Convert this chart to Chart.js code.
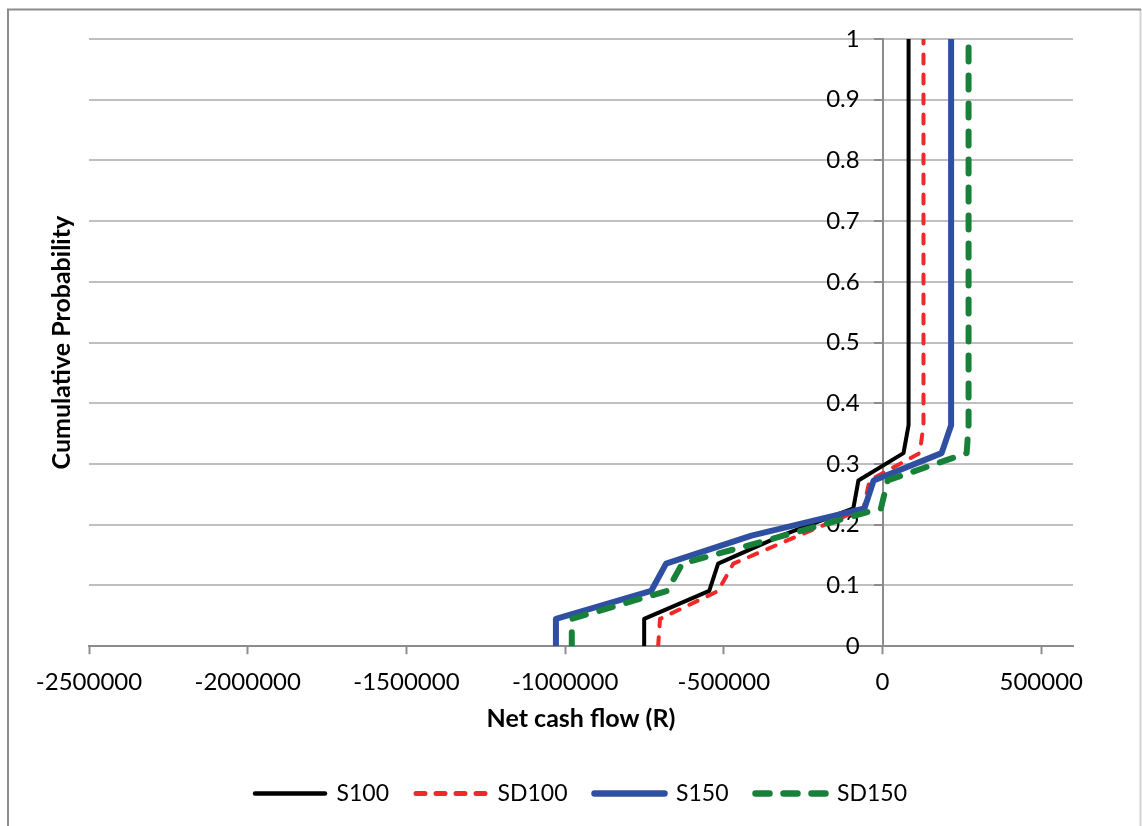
<!DOCTYPE html>
<html>
<head>
<meta charset="utf-8">
<title>Net cash flow distribution</title>
<script src="https://cdn.jsdelivr.net/npm/chart.js@4.4.1/dist/chart.umd.min.js"></script>
<style>
  html, body { margin: 0; padding: 0; background: #fff; }
  #wrap { width: 1142px; height: 826px; position: relative; }
</style>
</head>
<body>
<div id="wrap"><canvas id="cdfChart"></canvas></div>
<script>
// cumulative probability levels shared by every scenario
var cumProb = [0, 0.045, 0.091, 0.136, 0.182, 0.227, 0.273, 0.318, 0.364, 1];

// net cash flow (R) at each level
var flowS100  = [-751000, -751000, -546000, -518000, -319000, -92000, -76000, 66000, 82000, 82000];
var flowSD100 = [-707000, -701000, -518000, -470000, -265000, -60000, -41000, 117000, 129000, 129000];
var flowS150  = [-1029000, -1029000, -729000, -682000, -413000, -57000, -28000, 186000, 216000, 216000];
var flowSD150 = [-979000, -979000, -679000, -631000, -312000, -5000, 16000, 265000, 271000, 271000];

var seriesNames = ['S100', 'SD100', 'S150', 'SD150'];
var xTickValues = [-2500000, -2000000, -1500000, -1000000, -500000, 0, 500000];

var FONT = "Lato, 'DejaVu Sans', sans-serif";

function toPoints(xs) {
    return xs.map(function (x, i) { return { x: x, y: cumProb[i] }; });
}

// outer frame and rotated y title
var framePlugin = {
    id: 'frame',
    beforeDraw: function (chart) {
        var c = chart.ctx;
        c.save();
        c.fillStyle = '#fff';
        c.fillRect(0, 0, chart.width, chart.height);
        c.lineWidth = 2;
        c.strokeStyle = '#d4d4d4';
        c.beginPath(); c.moveTo(1140.5, 9); c.lineTo(1140.5, 826); c.stroke();
        c.strokeStyle = '#8c8c8c';
        c.beginPath(); c.moveTo(8, 826); c.lineTo(8, 9.5); c.lineTo(1141, 9.5); c.stroke();
        c.restore();
    },
    afterDraw: function (chart) {
        var c = chart.ctx, a = chart.chartArea;
        c.save();
        c.translate(62, (a.top + a.bottom) / 2);
        c.rotate(-Math.PI / 2);
        c.font = 'bold 25px ' + FONT;
        c.fillStyle = '#000';
        c.textAlign = 'center';
        c.textBaseline = 'middle';
        c.fillText('Cumulative Probability', 0, 0);
        c.restore();
    }
};

new Chart('cdfChart', {
    type: 'scatter',
    data: {
        datasets: [
            { label: seriesNames[0], data: toPoints(flowS100), borderColor: '#000000', borderWidth: 4, order: 4, legendWidth: 4.5 },
            { label: seriesNames[1], data: toPoints(flowSD100), borderColor: '#f02828', borderWidth: 4, borderDash: [9, 11], borderCapStyle: 'round', order: 3, legendWidth: 5 },
            { label: seriesNames[2], data: toPoints(flowS150), borderColor: '#2f50a2', borderWidth: 6, order: 2, legendWidth: 6.5 },
            { label: seriesNames[3], data: toPoints(flowSD150), borderColor: '#178039', borderWidth: 6, borderDash: [14, 14], borderCapStyle: 'round', order: 1, legendWidth: 6.5 }
        ]
    },
    options: {
        responsive: true,
        maintainAspectRatio: false,
        animation: false,
        showLine: true,
        elements: {
            point: { radius: 0, hoverRadius: 0 },
            line: { tension: 0, fill: false, borderJoinStyle: 'round' }
        },
        layout: { padding: { left: 89, right: 69, top: 39, bottom: 11 } },
        scales: {
            x: {
                type: 'linear',
                position: 'bottom',
                min: -2500000,
                max: 600000,
                afterBuildTicks: function (s) {
                    s.ticks = xTickValues.map(function (v) { return { value: v }; });
                },
                ticks: {
                    color: '#000',
                    font: { family: FONT, size: 24 },
                    padding: 14,
                    maxRotation: 0,
                    callback: function (v) { return String(v); }
                },
                grid: { drawOnChartArea: false, drawTicks: true, tickLength: 8, tickColor: '#8c8c8c', tickWidth: 2 },
                border: { color: '#8c8c8c', width: 2 },
                title: {
                    display: true,
                    text: 'Net cash flow (R)',
                    color: '#000',
                    font: { family: FONT, size: 25, weight: 'bold' },
                    padding: { top: -7, bottom: 21 }
                }
            },
            // vertical axis crossing at zero: line, grid and tick marks
            y: {
                type: 'linear',
                position: { x: 0 },
                min: 0,
                max: 1,
                ticks: { stepSize: 0.1, display: false },
                grid: { color: '#bfbfbf', lineWidth: 2, tickLength: 8, tickColor: '#8c8c8c', tickWidth: 2 },
                border: { color: '#8c8c8c', width: 2 }
            },
            // tick labels of the same axis, set just left of the tick marks
            yLabels: {
                type: 'linear',
                axis: 'y',
                position: { x: -72000 },
                min: 0,
                max: 1,
                ticks: {
                    stepSize: 0.1,
                    color: '#000',
                    font: { family: FONT, size: 24 },
                    callback: function (v) { return String(Math.round(v * 10) / 10); }
                },
                grid: { display: false },
                border: { display: false }
            }
        },
        plugins: {
            tooltip: { enabled: false },
            legend: {
                position: 'bottom',
                labels: {
                    usePointStyle: true,
                    pointStyleWidth: 70,
                    color: '#000',
                    font: { family: FONT, size: 23 },
                    padding: 27,
                    sort: function (a, b) { return a.datasetIndex - b.datasetIndex; },
                    generateLabels: function (chart) {
                        return chart.data.datasets.map(function (ds, i) {
                            return {
                                text: ds.label,
                                datasetIndex: i,
                                pointStyle: 'line',
                                strokeStyle: ds.borderColor,
                                fillStyle: ds.borderColor,
                                lineWidth: ds.legendWidth,
                                lineDash: ds.borderDash || [],
                                lineCap: 'round',
                                fontColor: '#000',
                                hidden: false
                            };
                        });
                    }
                }
            }
        }
    },
    plugins: [framePlugin]
});
</script>
</body>
</html>
